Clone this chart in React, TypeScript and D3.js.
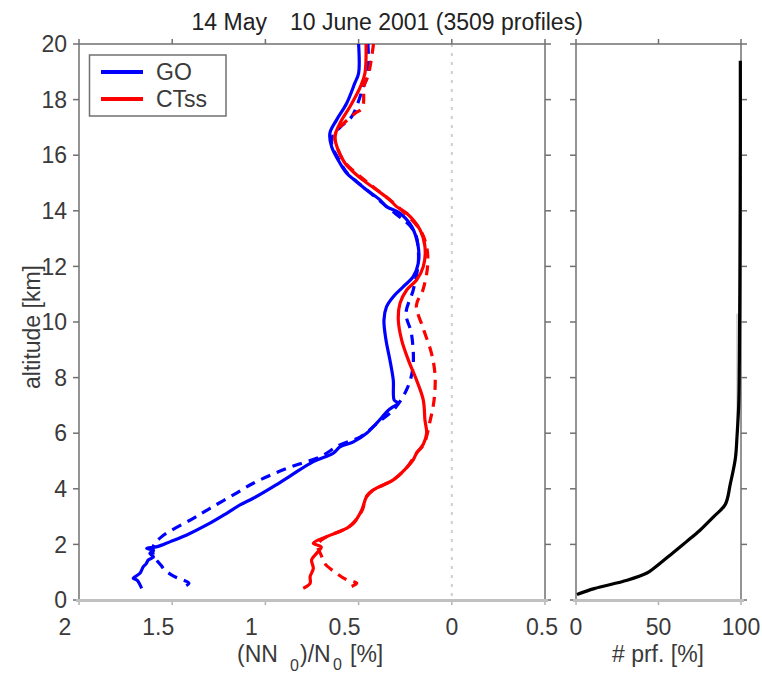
import React from "react";
import * as d3 from "d3";

// ---------- data ----------
const TITLE_LEFT = "14 May";
const TITLE_RIGHT = "10 June 2001 (3509 profiles)";
const Y_LABEL = "altitude [km]";
const X_LABEL_RIGHT = "# prf. [%]";

const yTicks = [0, 2, 4, 6, 8, 10, 12, 14, 16, 18, 20];
const xTicksLeft = [-2, -1.5, -1, -0.5, 0, 0.5];
const xTickLabelsLeft = ["2", "1.5", "1", "0.5", "0", "0.5"];
const xTicksRight = [0, 50, 100];
const legendNames = ["GO", "CTss"];

// [bias %, altitude km]
const goSolid: [number, number][] = [
  [-0.5, 20.0], [-0.5, 18.95], [-0.52, 18.6], [-0.564, 17.87], [-0.618, 17.27],
  [-0.654, 16.79], [-0.645, 16.31], [-0.61, 15.83], [-0.564, 15.35], [-0.52, 15.1],
  [-0.457, 14.75], [-0.385, 14.39], [-0.35, 14.15], [-0.278, 13.91], [-0.215, 13.43],
  [-0.18, 12.71], [-0.18, 12.11], [-0.207, 11.63], [-0.26, 11.27], [-0.314, 10.91],
  [-0.35, 10.55], [-0.364, 10.07], [-0.353, 9.35], [-0.332, 8.63], [-0.314, 7.91],
  [-0.309, 7.19], [-0.29, 7.09], [-0.34, 6.83], [-0.403, 6.36], [-0.457, 6.0],
  [-0.528, 5.69], [-0.6, 5.51], [-0.636, 5.28], [-0.743, 4.98], [-0.87, 4.45],
  [-0.958, 4.08], [-1.065, 3.66], [-1.136, 3.42], [-1.208, 3.12], [-1.315, 2.7],
  [-1.422, 2.34], [-1.51, 2.1], [-1.58, 1.92], [-1.637, 1.86], [-1.6, 1.78],
  [-1.62, 1.68], [-1.6, 1.55], [-1.628, 1.44], [-1.64, 1.3], [-1.655, 1.2],
  [-1.673, 0.96], [-1.709, 0.78], [-1.69, 0.72], [-1.682, 0.66], [-1.664, 0.42],
];
const goDashed: [number, number][] = [
  [-0.45, 20.0], [-0.45, 18.9], [-0.475, 18.47], [-0.5, 17.95], [-0.537, 17.39],
  [-0.6, 17.0], [-0.645, 16.6], [-0.64, 16.3], [-0.605, 15.83], [-0.56, 15.35],
  [-0.455, 14.75], [-0.35, 14.15], [-0.22, 13.43], [-0.19, 13.07], [-0.18, 12.6],
  [-0.18, 12.1], [-0.207, 11.15], [-0.246, 10.3], [-0.217, 9.6], [-0.208, 8.4],
  [-0.24, 7.6], [-0.305, 6.9], [-0.4, 6.36], [-0.49, 5.87], [-0.6, 5.58],
  [-0.707, 5.15], [-0.85, 4.82], [-0.958, 4.53], [-1.065, 4.2], [-1.172, 3.78],
  [-1.297, 3.3], [-1.387, 2.94], [-1.556, 2.28], [-1.6, 1.95], [-1.6, 1.6],
  [-1.56, 1.25], [-1.54, 1.08], [-1.49, 0.85], [-1.41, 0.6], [-1.458, 0.42],
];
const ctSolid: [number, number][] = [
  [-0.46, 20.0], [-0.466, 18.95], [-0.49, 18.47], [-0.546, 17.75], [-0.6, 17.15],
  [-0.627, 16.67], [-0.61, 16.19], [-0.573, 15.71], [-0.5, 15.23], [-0.403, 14.75],
  [-0.332, 14.39], [-0.296, 14.15], [-0.242, 13.91], [-0.17, 13.31], [-0.144, 12.71],
  [-0.153, 11.99], [-0.189, 11.51], [-0.242, 11.15], [-0.278, 10.67], [-0.287, 10.07],
  [-0.269, 9.35], [-0.233, 8.63], [-0.189, 7.91], [-0.153, 7.19], [-0.144, 6.47],
  [-0.135, 6.0], [-0.153, 5.6], [-0.189, 5.28], [-0.207, 5.04], [-0.242, 4.76],
  [-0.314, 4.32], [-0.421, 3.96], [-0.457, 3.72], [-0.483, 3.24], [-0.528, 2.76],
  [-0.582, 2.52], [-0.671, 2.28], [-0.743, 2.04], [-0.7, 1.9], [-0.725, 1.68],
  [-0.752, 1.44], [-0.743, 1.14], [-0.76, 0.84], [-0.76, 0.6], [-0.797, 0.42],
];
const ctDashed: [number, number][] = [
  [-0.42, 20.0], [-0.447, 18.9], [-0.47, 18.5], [-0.48, 17.7], [-0.52, 17.5],
  [-0.6, 17.0], [-0.627, 16.67], [-0.61, 16.19], [-0.57, 15.71], [-0.49, 15.23],
  [-0.4, 14.75], [-0.29, 14.15], [-0.17, 13.31], [-0.135, 12.71], [-0.13, 12.0],
  [-0.155, 11.15], [-0.19, 10.6], [-0.155, 9.8], [-0.11, 8.9], [-0.09, 8.1],
  [-0.095, 7.2], [-0.118, 6.4], [-0.15, 5.6], [-0.19, 5.28], [-0.242, 4.76],
  [-0.314, 4.32], [-0.421, 3.96], [-0.46, 3.7], [-0.48, 3.24], [-0.53, 2.76],
  [-0.59, 2.5], [-0.67, 2.28], [-0.72, 2.0], [-0.7, 1.6], [-0.68, 1.3],
  [-0.618, 0.96], [-0.57, 0.75], [-0.51, 0.6], [-0.564, 0.42],
];
// [% of profiles, altitude km]
const profilePct: [number, number][] = [
  [0.6, 0.2], [11, 0.41], [31, 0.71], [43, 0.97], [47, 1.13], [59, 1.71],
  [67, 2.1], [75, 2.5], [83.5, 3.0], [90.5, 3.44], [93.5, 4.17], [96.6, 5.1],
  [97.6, 5.9], [98.6, 7.0], [99, 8.6], [99.4, 12.6], [99.6, 16.6], [99.6, 19.4],
];
const profileGrey: [number, number][] = [[97.6, 10.3], [97.6, 5.9]];

// ---------- layout ----------
const W = 762, H = 673;
const FONT = "'Liberation Sans', Arial, Helvetica, sans-serif";
const FS = 23;
const AXIS = "#707070";
const TXT = "#3a3a3a";
const BLUE = "#0000ff";
const RED = "#ff0000";

const y = d3.scaleLinear().domain([0, 20]).range([600, 44]);
const xL = d3.scaleLinear().domain([-2, 0.5]).range([79, 545]);
const xR = d3.scaleLinear().domain([0, 100]).range([576, 741]);

const lineL = d3.line<[number, number]>().x((d) => xL(d[0])).y((d) => y(d[1])).curve(d3.curveCatmullRom.alpha(0.5));
const lineR = d3.line<[number, number]>().x((d) => xR(d[0])).y((d) => y(d[1])).curve(d3.curveCatmullRom.alpha(0.5));

function Frame({ x0, x1, xt }: { x0: number; x1: number; xt: number[] }) {
  const top = y(20), bot = y(0);
  return (
    <g>
      {yTicks.map((t) => (
        <g key={t}>
          <line x1={x0 - 6} x2={x0} y1={y(t)} y2={y(t)} stroke={AXIS} strokeWidth={1.5} />
          <line x1={x1} x2={x1 + 6} y1={y(t)} y2={y(t)} stroke={AXIS} strokeWidth={1.5} />
        </g>
      ))}
      {xt.map((px, i) => (
        <g key={i}>
          <line x1={px} x2={px} y1={top - 5} y2={top} stroke={AXIS} strokeWidth={1.5} />
          <line x1={px} x2={px} y1={bot} y2={bot + 5} stroke="#b0b0b0" strokeWidth={1.5} />
        </g>
      ))}
      <line x1={x0} x2={x1} y1={top} y2={top} stroke={AXIS} strokeWidth={1.5} />
      <line x1={x0} x2={x0} y1={top} y2={bot} stroke={AXIS} strokeWidth={1.5} />
      <line x1={x1} x2={x1} y1={top} y2={bot} stroke={AXIS} strokeWidth={1.5} />
      <line x1={x0 - 3} x2={x1 + 3} y1={bot + 0.5} y2={bot + 0.5} stroke="#c0c0c0" strokeWidth={3} />
    </g>
  );
}

export default function App() {
  const top = y(20), bot = y(0);
  return (
    <svg width={W} height={H} viewBox={`0 0 ${W} ${H}`}
      style={{ position: "absolute", left: 0, top: 0, background: "#fff" }}
      fontFamily={FONT}>
      <rect x={0} y={0} width={W} height={H} fill="#fff" />

      {/* title */}
      <text x={267} y={30} fontSize={FS} fill="#222" textAnchor="end">{TITLE_LEFT}</text>
      <text x={290} y={30} fontSize={FS} fill="#222">{TITLE_RIGHT}</text>

      {/* zero line */}
      <line x1={xL(0)} x2={xL(0)} y1={top} y2={bot} stroke="#cfcfcf" strokeWidth={2} strokeDasharray="3,6" />

      <Frame x0={xL(-2)} x1={xL(0.5)} xt={xTicksLeft.map((t) => xL(t))} />
      <Frame x0={xR(0)} x1={xR(100)} xt={xTicksRight.map((t) => xR(t))} />

      {yTicks.map((t) => (
        <text key={t} x={67} y={y(t)} dy="0.36em" fontSize={FS} fill={TXT} textAnchor="end">{t}</text>
      ))}
      {xTicksLeft.map((t, i) => (
        <text key={i} x={xL(t) + (t < 0 ? -14 : t > 0 ? -3 : 0)} y={635} fontSize={FS} fill={TXT} textAnchor="middle">
          {xTickLabelsLeft[i]}
        </text>
      ))}
      {xTicksRight.map((t) => (
        <text key={t} x={xR(t)} y={635} fontSize={FS} fill={TXT} textAnchor="middle">{t}</text>
      ))}

      {/* axis labels */}
      <text transform="translate(40,327) rotate(-90)" fontSize={FS} fill={TXT} textAnchor="middle">{Y_LABEL}</text>
      <text y={662} fontSize={FS} fill={TXT}>
        <tspan x={237}>(NN</tspan>
        <tspan x={290} dy={9} fontSize={16}>0</tspan>
        <tspan x={300} dy={-9}>)/N</tspan>
        <tspan x={333} dy={8} fontSize={16}>0</tspan>
        <tspan x={350} dy={-8}>[%]</tspan>
      </text>
      <text x={658} y={662} fontSize={FS} fill={TXT} textAnchor="middle">{X_LABEL_RIGHT}</text>

      {/* curves */}
      <path d={lineL(goDashed) || ""} fill="none" stroke={BLUE} strokeWidth={3.2} strokeDasharray="10,7" />
      <path d={lineL(goSolid) || ""} fill="none" stroke={BLUE} strokeWidth={3.2} />
      <path d={lineL(ctDashed) || ""} fill="none" stroke={RED} strokeWidth={3.2} strokeDasharray="10,7" />
      <path d={lineL(ctSolid) || ""} fill="none" stroke={RED} strokeWidth={3.2} />

      <path d={lineR(profileGrey) || ""} fill="none" stroke="#c8c8c8" strokeWidth={1.5} />
      <path d={lineR(profilePct) || ""} fill="none" stroke="#000" strokeWidth={3.2} />

      {/* legend */}
      <rect x={89.5} y={55} width={136.5} height={61} fill="#fff" stroke={AXIS} strokeWidth={1.5} />
      <line x1={101} x2={143} y1={72} y2={72} stroke={BLUE} strokeWidth={4} />
      <line x1={101} x2={143} y1={99} y2={99} stroke={RED} strokeWidth={4} />
      <text x={156} y={80} fontSize={FS} fill={TXT}>{legendNames[0]}</text>
      <text x={156} y={107} fontSize={FS} fill={TXT}>{legendNames[1]}</text>
    </svg>
  );
}
